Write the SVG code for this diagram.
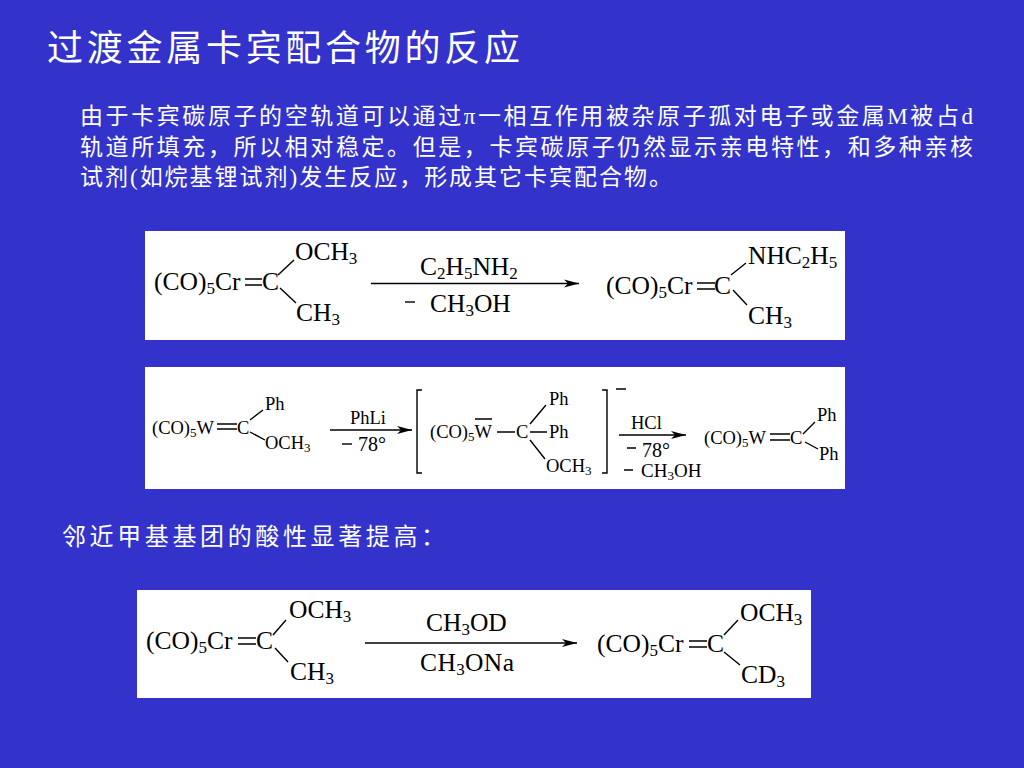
<svg xmlns="http://www.w3.org/2000/svg" width="1024" height="768" viewBox="0 0 1024 768">
<style>
.cn{font-family:"Liberation Serif","Noto Sans CJK SC",serif;fill:#fff;font-weight:400}
.t{font-family:"Liberation Serif",serif;fill:#000}
.a{font-size:25.5px}.b{font-size:18.5px}.c{font-size:20px}
.a tspan.s{font-size:17px}.b tspan.s,.d tspan.s{font-size:13px}
.d{font-size:19px}
.panel{fill:#fff}
.l{stroke:#000;stroke-width:1.4;fill:none}
.arrow{stroke:#000;stroke-width:1.4;fill:none;marker-end:url(#head)}
</style>
<defs>
<marker id="head" markerUnits="userSpaceOnUse" markerWidth="16" markerHeight="10" refX="15" refY="5" orient="auto"><path d="M0 1 L15 5 L0 9 L4 5 Z" fill="#000"/></marker>
</defs>
<rect width="1024" height="768" fill="#3333cc"/>
<g id="heading">
<text class="cn" x="47" y="61" font-size="36" textLength="473">过渡金属卡宾配合物的反应</text>
</g>
<g id="intro">
<text class="cn" x="80" y="124" font-size="23" textLength="893">由于卡宾碳原子的空轨道可以通过π一相互作用被杂原子孤对电子或金属M被占d</text>
<text class="cn" x="80" y="155" font-size="23" textLength="893">轨道所填充，所以相对稳定。但是，卡宾碳原子仍然显示亲电特性，和多种亲核</text>
<text class="cn" x="80" y="185" font-size="23" textLength="592">试剂(如烷基锂试剂)发生反应，形成其它卡宾配合物。</text>
</g>
<g id="note">
<text class="cn" x="62" y="545" font-size="24" textLength="383">邻近甲基基团的酸性显著提高：</text>
</g>
<rect class="panel" x="145" y="231" width="700" height="109"/>
<rect class="panel" x="145" y="367" width="700" height="122"/>
<rect class="panel" x="137" y="590" width="674" height="108"/>

<g id="connectors">
<line class="arrow" x1="371" y1="283.5" x2="579" y2="283.5"/>
<line class="arrow" x1="330" y1="430" x2="412" y2="430"/>
<line class="arrow" x1="619" y1="435" x2="686" y2="435"/>
<line class="arrow" x1="365" y1="643" x2="577" y2="643"/>
</g>

<g id="r1-reactant">
<text class="t a" x="154" y="290">(CO)<tspan class="s" dy="4">5</tspan><tspan dy="-4">Cr</tspan></text>
<path class="l" d="M245 279H262M245 285H262M278 275L294 260M280 288L296 303"/>
<text class="t a" x="262" y="290">C</text>
<text class="t a" x="295" y="260">OCH<tspan class="s" dy="4">3</tspan></text>
<text class="t a" x="296" y="321">CH<tspan class="s" dy="4">3</tspan></text>
</g>
<g id="r1-conditions">
<text class="t a" x="420" y="275">C<tspan class="s" dy="4">2</tspan><tspan dy="-4">H</tspan><tspan class="s" dy="4">5</tspan><tspan dy="-4">NH</tspan><tspan class="s" dy="4">2</tspan></text>
<path class="l" d="M405 302H415"/>
<text class="t a" x="430" y="312">CH<tspan class="s" dy="4">3</tspan><tspan dy="-4">OH</tspan></text>
</g>
<g id="r1-product">
<text class="t a" x="606" y="294">(CO)<tspan class="s" dy="4">5</tspan><tspan dy="-4">Cr</tspan></text>
<path class="l" d="M697 283H715M697 289H715M731 275L746 263M733 290L747 305"/>
<text class="t a" x="714" y="294">C</text>
<text class="t a" x="748" y="264">NHC<tspan class="s" dy="4">2</tspan><tspan dy="-4">H</tspan><tspan class="s" dy="4">5</tspan></text>
<text class="t a" x="748" y="324">CH<tspan class="s" dy="4">3</tspan></text>
</g>

<g id="r2-reactant">
<text class="t b" x="152" y="434">(CO)<tspan class="s" dy="3">5</tspan><tspan dy="-3">W</tspan></text>
<path class="l" d="M217 424H237M217 429H237M250 420L263 410M250 432L265 440"/>
<text class="t b" x="237" y="434">C</text>
<text class="t b" x="265" y="410">Ph</text>
<text class="t b" x="265" y="449">OCH<tspan class="s" dy="3">3</tspan></text>
</g>
<g id="r2-conditions-a">
<text class="t b" x="350" y="424">PhLi</text>
<path class="l" d="M342 444H352"/>
<text class="t c" x="358" y="451">78°</text>
</g>
<g id="r2-intermediate">
<path class="l" d="M422 390H417V473H422M602 390H607V473H602M616 389H626"/>
<text class="t b" x="430" y="438">(CO)<tspan class="s" dy="3">5</tspan><tspan dy="-3">W</tspan></text>
<path class="l" d="M475 419H492M497 432H515M530 432H547M530 424L546 405M530 440L545 459"/>
<text class="t b" x="516" y="438">C</text>
<text class="t b" x="549" y="405">Ph</text>
<text class="t b" x="549" y="438">Ph</text>
<text class="t b" x="546" y="472">OCH<tspan class="s" dy="3">3</tspan></text>
</g>
<g id="r2-conditions-b">
<text class="t b" x="631" y="429">HCl</text>
<path class="l" d="M627 448H636M624 470H633"/>
<text class="t c" x="642" y="457">78°</text>
<text class="t d" x="641" y="477">CH<tspan class="s" dy="3">3</tspan><tspan dy="-3">OH</tspan></text>
</g>
<g id="r2-product">
<text class="t b" x="704" y="444">(CO)<tspan class="s" dy="3">5</tspan><tspan dy="-3">W</tspan></text>
<path class="l" d="M770 434H790M770 440H790M803 434L815 422M805 442L818 449"/>
<text class="t b" x="790" y="444">C</text>
<text class="t b" x="817" y="421">Ph</text>
<text class="t b" x="819" y="460">Ph</text>
</g>

<g id="r3-reactant">
<text class="t a" x="146" y="649">(CO)<tspan class="s" dy="4">5</tspan><tspan dy="-4">Cr</tspan></text>
<path class="l" d="M238 638H256M238 644H256M273 635L286 620M275 648L288 662"/>
<text class="t a" x="256" y="649">C</text>
<text class="t a" x="289" y="618">OCH<tspan class="s" dy="4">3</tspan></text>
<text class="t a" x="290" y="680">CH<tspan class="s" dy="4">3</tspan></text>
</g>
<g id="r3-conditions">
<text class="t a" x="426" y="631">CH<tspan class="s" dy="4">3</tspan><tspan dy="-4">OD</tspan></text>
<text class="t a" x="420" y="671" textLength="94">CH<tspan class="s" dy="4">3</tspan><tspan dy="-4">ONa</tspan></text>
</g>
<g id="r3-product">
<text class="t a" x="597" y="652">(CO)<tspan class="s" dy="4">5</tspan><tspan dy="-4">Cr</tspan></text>
<path class="l" d="M689 641H707M689 647H707M724 635L738 620M724 652L740 665"/>
<text class="t a" x="707" y="652">C</text>
<text class="t a" x="740" y="621">OCH<tspan class="s" dy="4">3</tspan></text>
<text class="t a" x="741" y="683">CD<tspan class="s" dy="4">3</tspan></text>
</g>
</svg>
